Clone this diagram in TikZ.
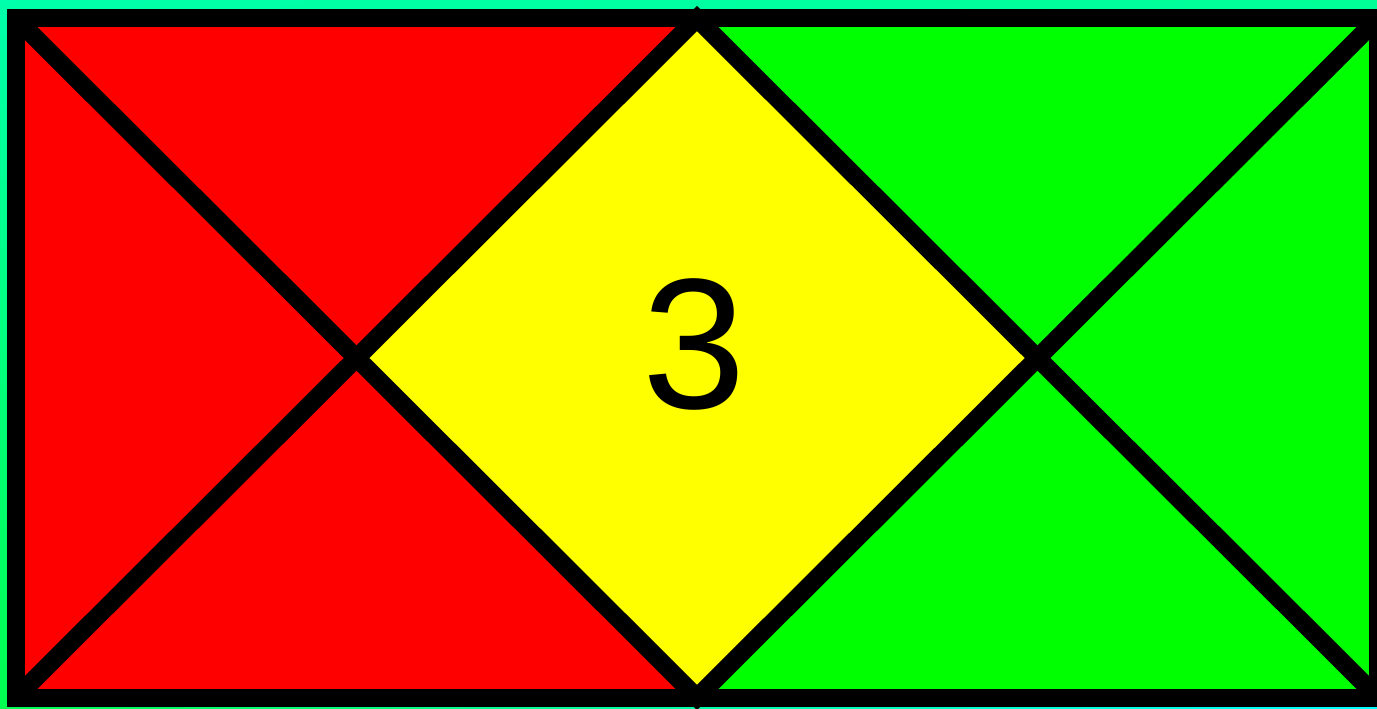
\documentclass[tikz,border=0pt]{standalone}
\usepackage{fontspec}
\setmainfont{Liberation Sans}
\usetikzlibrary{shadings}
\definecolor{bgtl}{RGB}{0,255,170}
\definecolor{bgtr}{RGB}{0,255,150}
\definecolor{bgbl}{RGB}{0,255,80}
\definecolor{bgbr}{RGB}{0,255,255}
\definecolor{leftred}{RGB}{255,0,0}
\definecolor{rightgreen}{RGB}{0,255,0}
\definecolor{midyellow}{RGB}{255,255,0}
\tikzset{
  edge/.style={draw=black,line width=18pt},
}
\begin{document}
\begin{tikzpicture}[x=1pt,y=-1pt]
        \useasboundingbox (0,0) rectangle (1377,709);
        \shade[upper left=bgtl,upper right=bgtr,lower left=bgbl,lower right=bgbr]
               (0,0) rectangle (1377,709);
        \coordinate (tl) at (16,18.5);
        \coordinate (tm) at (697,18.5);
        \coordinate (tr) at (1378,18.5);
        \coordinate (bl) at (16,697.5);
        \coordinate (bm) at (697,697.5);
        \coordinate (br) at (1378,697.5);
        \coordinate (ml) at (356.5,358);
        \coordinate (mr) at (1037.5,358);
        % halves and diamond
        \fill[leftred] (tl) rectangle (bm);
        \fill[rightgreen] (tm) rectangle (br);
        \fill[midyellow] (tm) -- (mr) -- (bm) -- (ml) -- cycle;
        \node[font=\fontsize{186}{186}\selectfont] (num) at (694,344) {3};
        % lines
        \draw[edge] (tl) -- (bm) -- (tr);
        \draw[edge] (bl) -- (tm) -- (br);
        \draw[edge] (tl) rectangle (br);
    \end{tikzpicture}
\end{document}
